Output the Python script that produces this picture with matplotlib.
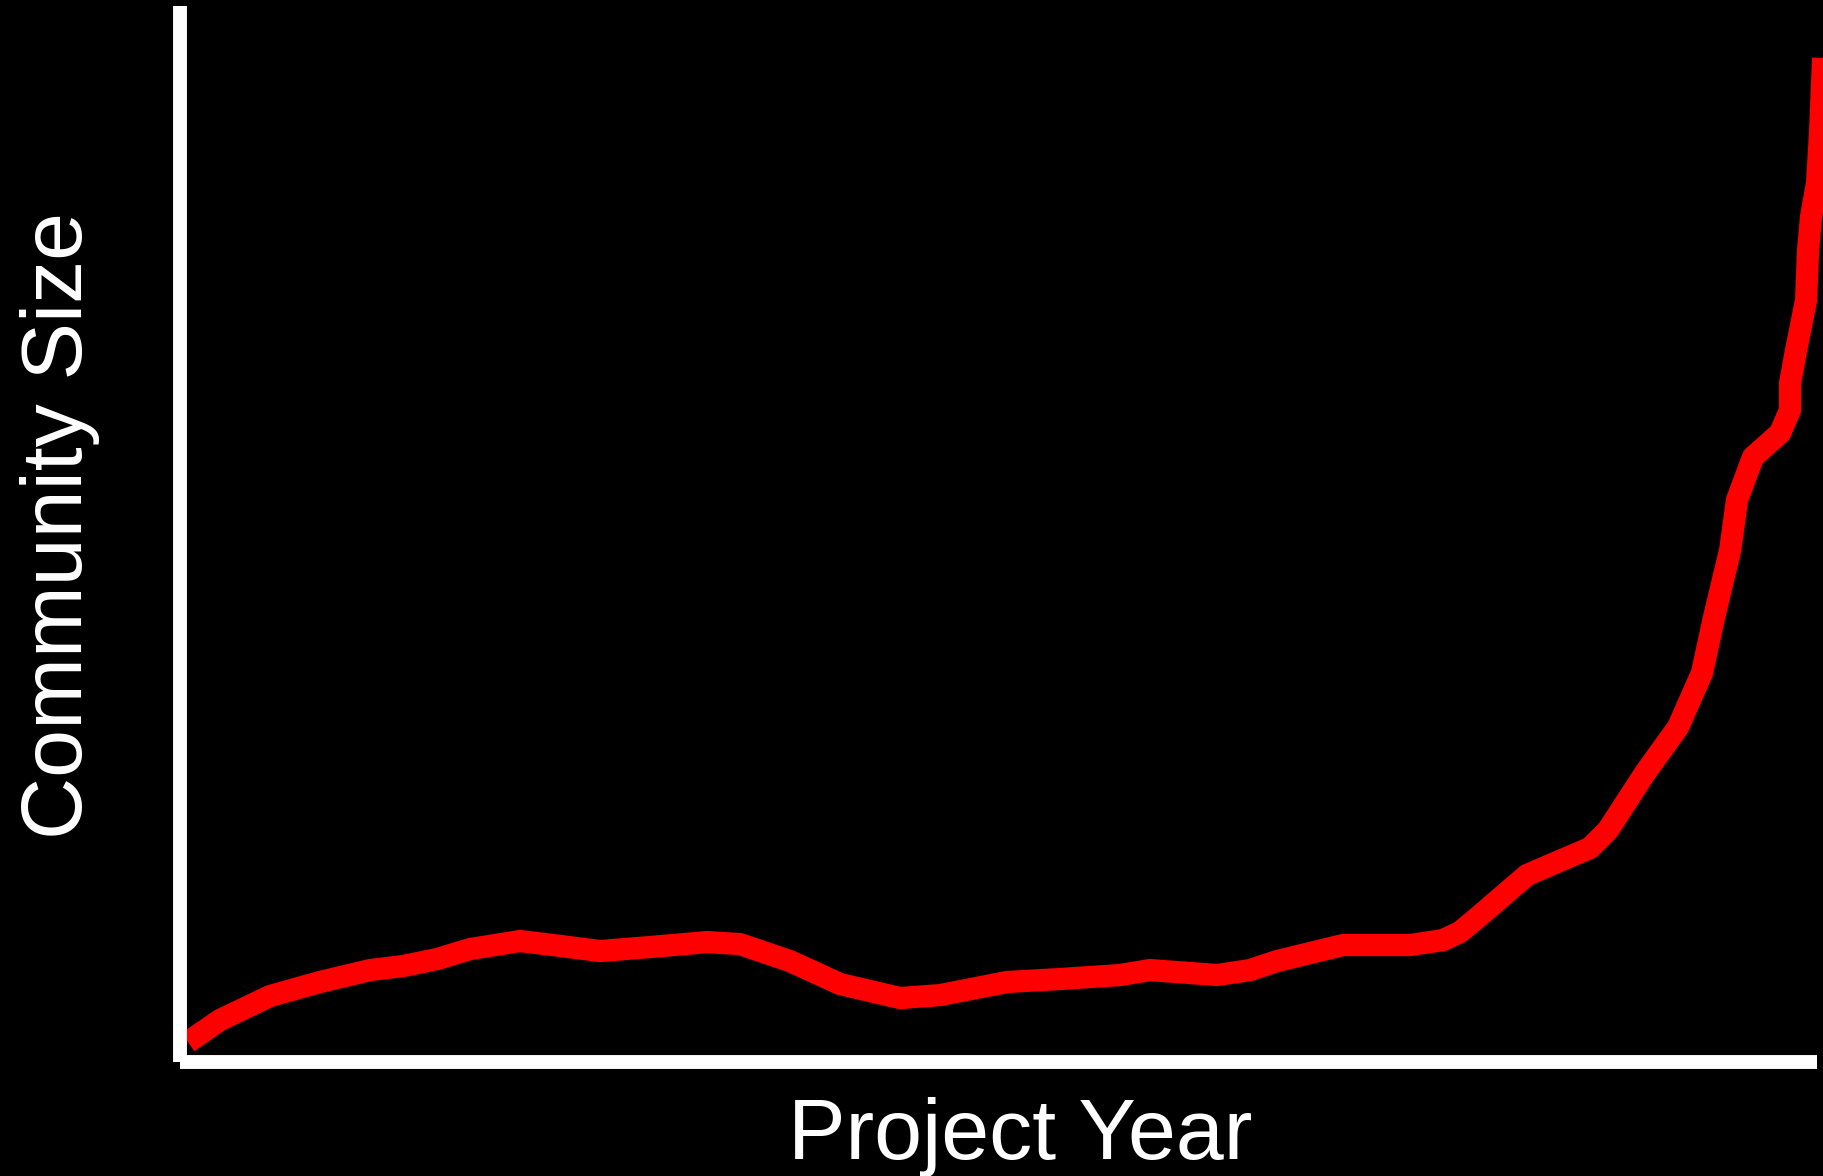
import matplotlib
matplotlib.use("Agg")
import matplotlib.pyplot as plt

# community size over project years (0-100 scale)
year = [0.49, 2.44, 5.50, 8.55, 11.61, 13.62, 15.70, 17.72, 20.77, 22.79,
        25.66, 28.71, 32.19, 34.21, 37.26, 40.32, 43.98, 46.43, 50.52, 53.76,
        57.42, 59.25, 63.35, 65.36, 67.01, 71.04, 75.14, 77.15, 78.19, 79.23,
        82.28, 84.12, 86.13, 87.23, 89.49, 91.51, 92.97, 93.71, 94.69, 95.11,
        96.09, 97.74, 98.35, 98.35, 98.72, 99.33, 99.45, 99.63, 100.0, 100.18,
        100.37]
size = [1.89, 3.98, 6.25, 7.58, 8.71, 9.09, 9.75, 10.70, 11.46, 11.08,
        10.51, 10.89, 11.36, 11.17, 9.56, 7.39, 6.06, 6.34, 7.58, 7.86,
        8.24, 8.71, 8.24, 8.71, 9.56, 11.08, 11.08, 11.55, 12.31, 13.64,
        17.71, 18.94, 20.27, 21.97, 27.37, 31.72, 36.84, 42.14, 48.48, 53.22,
        57.29, 59.56, 61.74, 64.30, 67.42, 72.16, 76.89, 80.02, 83.24, 87.97,
        95.08]

plt.rcParams['font.family'] = ['Liberation Sans', 'DejaVu Sans']

fig = plt.figure(figsize=(18.24, 11.76), dpi=100, facecolor='black')
ax = fig.add_axes([0.0987, 0.0969, 0.8975, 0.898])
ax.set_facecolor('black')

ax.plot(year, size, color='#ff0000', linewidth=16,
        solid_joinstyle='round', solid_capstyle='butt', clip_on=False)

ax.set_xlim(0, 100)
ax.set_ylim(0, 100)
ax.set_xticks([])
ax.set_yticks([])
for side in ['top', 'right']:
    ax.spines[side].set_visible(False)
for side in ['left', 'bottom']:
    ax.spines[side].set_color('white')
    ax.spines[side].set_linewidth(10)
    ax.spines[side].set_capstyle('butt')

ax.set_xlabel("Project Year", color='white', fontsize=62)
ax.set_ylabel("Community Size", color='white', fontsize=62)
ax.xaxis.set_label_coords(0.513, -0.033)
ax.yaxis.set_label_coords(-0.049, 0.508)

fig.savefig("out.png", dpi=100, facecolor='black')
